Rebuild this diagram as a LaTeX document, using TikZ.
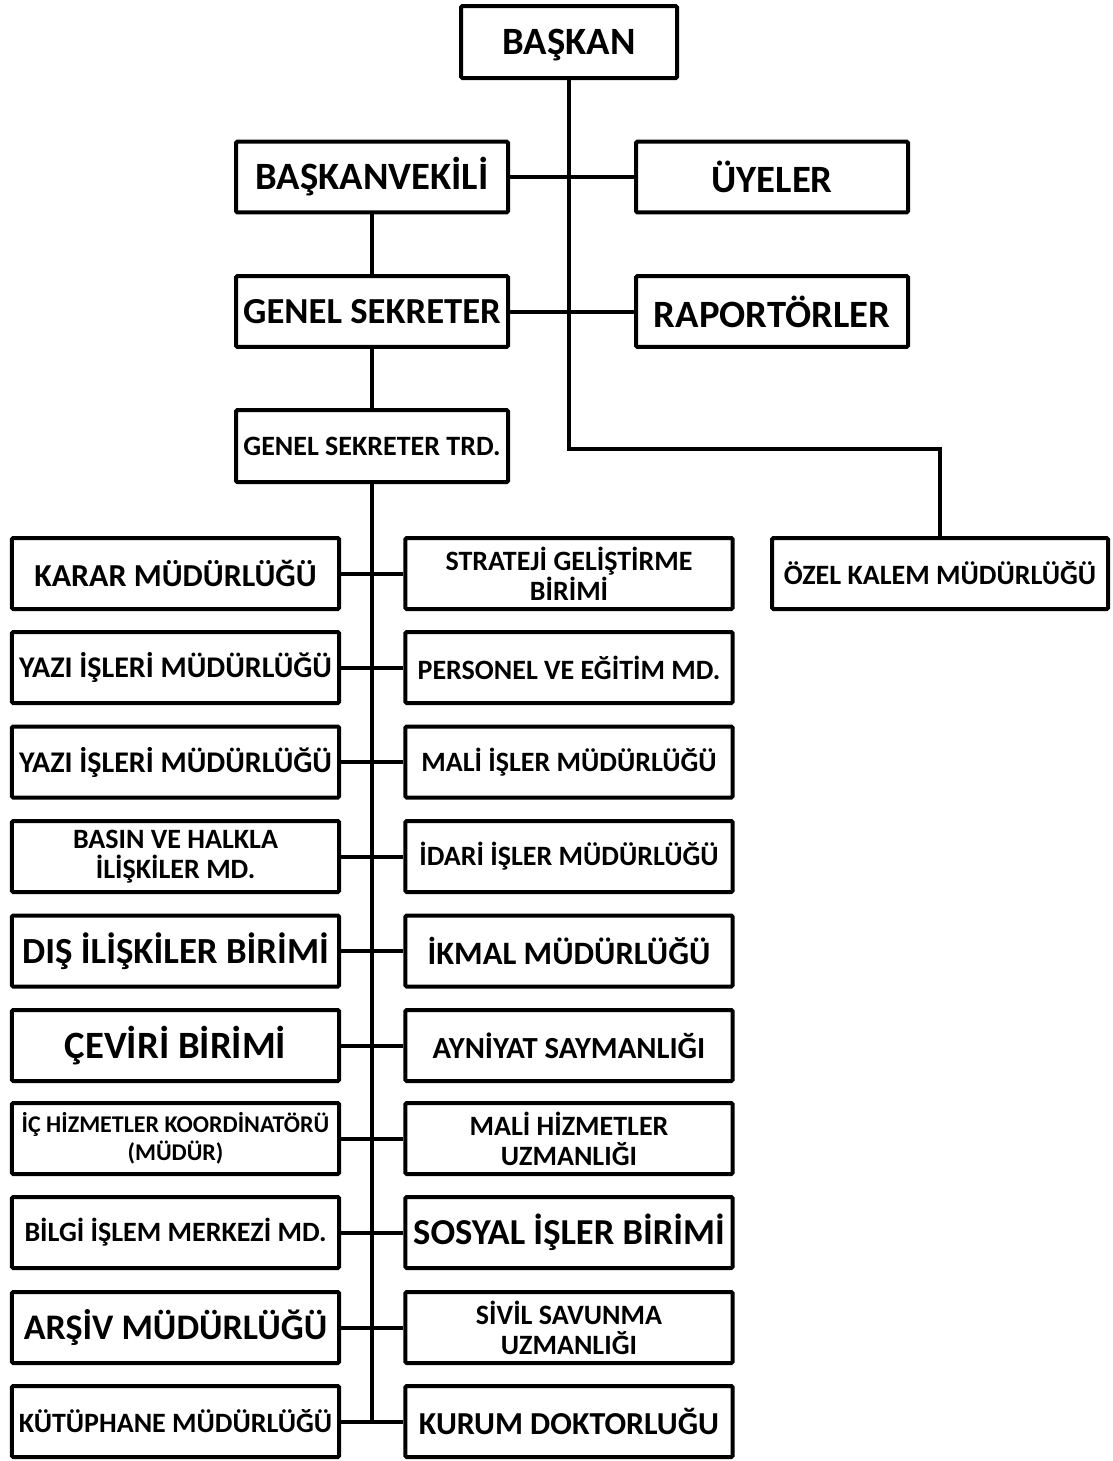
\documentclass[tikz,border=0pt]{standalone}
\usepackage{fontspec}
\setmainfont{Carlito}
\begin{document}
\begin{tikzpicture}[x=0.75pt,y=-0.75pt,
  box/.style={draw=black,line width=3pt,rounded corners=1pt,fill=white,inner sep=0pt,align=center,font=\bfseries},
  wide/.style={box,minimum width=204pt,minimum height=53pt},
  colbox/.style={box,minimum width=245.5pt,minimum height=53.25pt},
  conn/.style={line width=3pt},
  thin/.style={line width=2.6pt},
  fz/.style={font=\bfseries\fontsize{#1}{#1}\selectfont},
  fzz/.style 2 args={font=\bfseries\fontsize{#1}{#2}\selectfont}
]
\useasboundingbox (0,0) rectangle (1113,1461);
\fill[white] (0,0) rectangle (1113,1461);

% top boxes
\node[box,minimum width=162pt,minimum height=54pt,text depth=0pt,fz=29pt] (baskan) at (569,42) {BAŞKAN};
\node[wide,fz=29pt] (bvekil) at (372,177) {BAŞKANVEKİLİ};
\node[wide,fz=29pt] (uyeler) at (772,177) {ÜYELER};
\node[wide,fz=27.5pt] (gensek) at (372,311.5) {GENEL SEKRETER};
\node[wide,fz=29pt] (rapor) at (772,311.5) {RAPORTÖRLER};
\node[wide,minimum height=54pt,fz=21pt] (trd) at (372,446) {GENEL SEKRETER TRD.};
\node[box,minimum width=252pt,minimum height=53.25pt,fz=21pt] (ozel) at (940,573.5) {ÖZEL KALEM MÜDÜRLÜĞÜ};

% left column
\node[colbox,fz=24pt] (l1) at (175.5,573.5) {KARAR MÜDÜRLÜĞÜ};
\node[colbox,fz=22.5pt] (l2) at (175.5,667.5) {YAZI İŞLERİ MÜDÜRLÜĞÜ};
\node[colbox,fz=22.5pt] (l3) at (175.5,762) {YAZI İŞLERİ MÜDÜRLÜĞÜ};
\node[colbox,fzz={21pt}{22.5pt}] (l4) at (175.5,856.5) {BASIN VE HALKLA\\İLİŞKİLER MD.};
\node[colbox,fz=27.6pt] (l5) at (175.5,951) {DIŞ İLİŞKİLER BİRİMİ};
\node[colbox,fz=29pt] (l6) at (175.5,1045.5) {ÇEVİRİ BİRİMİ};
\node[colbox,fzz={18pt}{21pt}] (l7) at (175.5,1138.5) {İÇ HİZMETLER KOORDİNATÖRÜ\\(MÜDÜR)};
\node[colbox,fz=21pt] (l8) at (175.5,1232.5) {BİLGİ İŞLEM MERKEZİ MD.};
\node[colbox,fz=27pt] (l9) at (175.5,1327.5) {ARŞİV MÜDÜRLÜĞÜ};
\node[colbox,fz=21pt] (l10) at (175.5,1421.5) {KÜTÜPHANE MÜDÜRLÜĞÜ};

% right column
\node[colbox,fzz={21pt}{22.5pt}] (r1) at (569,573.5) {STRATEJİ GELİŞTİRME\\BİRİMİ};
\node[colbox,fz=21pt] (r2) at (569,667.5) {PERSONEL VE EĞİTİM MD.};
\node[colbox,fz=21pt] (r3) at (569,762) {MALİ İŞLER MÜDÜRLÜĞÜ};
\node[colbox,fz=21pt] (r4) at (569,856.5) {İDARİ İŞLER MÜDÜRLÜĞÜ};
\node[colbox,fz=24.5pt] (r5) at (569,951) {İKMAL MÜDÜRLÜĞÜ};
\node[colbox,fz=23pt] (r6) at (569,1045.5) {AYNİYAT SAYMANLIĞI};
\node[colbox,fzz={21pt}{22.5pt}] (r7) at (569,1138.5) {MALİ HİZMETLER\\UZMANLIĞI};
\node[colbox,fz=27.4pt] (r8) at (569,1232.5) {SOSYAL İŞLER BİRİMİ};
\node[colbox,fzz={21pt}{22.5pt}] (r9) at (569,1327.5) {SİVİL SAVUNMA\\UZMANLIĞI};
\node[colbox,fz=24pt] (r10) at (569,1421.5) {KURUM DOKTORLUĞU};

\coordinate (bend) at (569,449);
\coordinate (trunkend) at (372,1421.5);

% connectors
\draw[conn] (bvekil.east) -- (uyeler.west);
\draw[conn] (gensek.east) -- (rapor.west);
\draw[thin] (baskan.south) -- (bend) -| (ozel.north);
\draw[conn] (bvekil.south) -- (gensek.north);
\draw[conn] (gensek.south) -- (trd.north);
\draw[line width=3.5pt] (trd.south) -- (trunkend);
\foreach \i in {1,...,10} {
  \draw[conn] (l\i.east) -- (r\i.west);
}
\end{tikzpicture}
\end{document}
